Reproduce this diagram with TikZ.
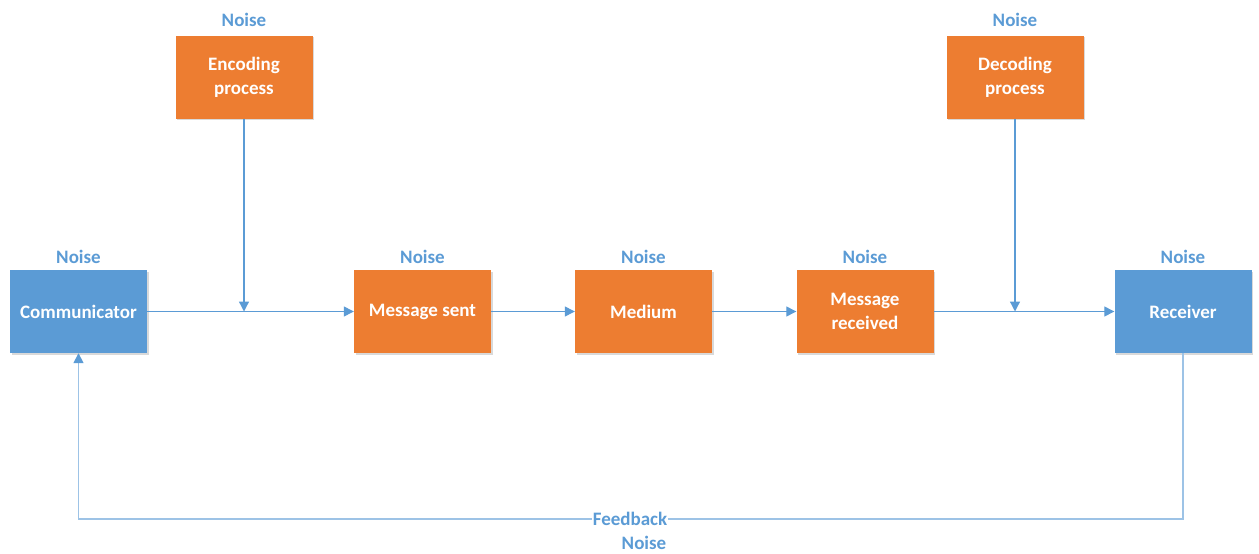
\documentclass[tikz,border=0pt]{standalone}
\usepackage{fontspec}
\setmainfont{Carlito}
\usetikzlibrary{arrows.meta,shadows}
\definecolor{cblue}{HTML}{5B9BD5}
\definecolor{corange}{HTML}{ED7D31}
\definecolor{lblue}{HTML}{9DC3E6}
\tikzset{
  lbl/.style={font=\bfseries\fontsize{19}{24}\selectfont},
  box/.style={lbl, draw=none, minimum width=137pt, minimum height=83pt, align=center,
    text=white,
    drop shadow={shadow xshift=1.5pt, shadow yshift=-1.5pt, fill=black!25, opacity=0.6}},
  bbox/.style={box, fill=cblue},
  obox/.style={box, fill=corange},
  noise/.style={lbl, text=cblue, inner sep=0pt},
  tip/.style={-{Triangle[length=10pt,width=10pt,color=cblue]}},
  conn/.style={draw=cblue, line width=1.3pt, tip},
  fb/.style={draw=lblue, line width=1.6pt}
}
\begin{document}
\begin{tikzpicture}[x=1pt,y=-1pt]
\useasboundingbox (0,0) rectangle (1259,554);
\node[bbox] (comm) at (78.5,311.5) {Communicator};
\node[obox] (sent) at (422.5,311.5) {Message sent};
\node[obox] (med) at (643.5,311.5) {Medium};
\node[obox] (recd) at (865,311.5) {Message\\received};
\node[bbox] (recv) at (1183,311.5) {Receiver};
\node[obox] (enc) at (244,77) {Encoding\\process};
\node[obox] (dec) at (1015,77) {Decoding\\process};
\node[noise] (n1) at (78.5,257) {Noise};
\node[noise] (n2) at (422.5,257) {Noise};
\node[noise] (n3) at (643.5,257) {Noise};
\node[noise] (n4) at (865,257) {Noise};
\node[noise] (n5) at (1183,257) {Noise};
\node[noise] (n6) at (244,20) {Noise};
\node[noise] (n7) at (1015,20) {Noise};
\node[noise] (n8) at (644,543) {Noise};
\coordinate (j1) at (244,311.5);
\coordinate (j2) at (1015,311.5);
\coordinate (f1) at (1183,519);
\coordinate (f2) at (78.5,519);
\node[lbl, text=cblue, fill=white, inner sep=1pt] (fbl) at (630,519) {Feedback};
\draw[conn] (comm) -- (sent);
\draw[conn] (enc) -- (j1);
\draw[conn] (sent) -- (med);
\draw[conn] (med) -- (recd);
\draw[conn] (recd) -- (recv);
\draw[conn] (dec) -- (j2);
\draw[fb] (recv.south) -- (f1) -- (fbl.east);
\draw[fb, tip] (fbl.west) -- (f2) -- (comm.south);
\end{tikzpicture}
\end{document}
